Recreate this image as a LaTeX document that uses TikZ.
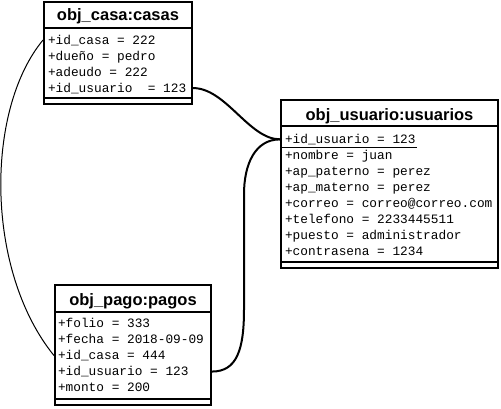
\documentclass[tikz,border=0pt]{standalone}
\usepackage{fontspec}
\setmainfont{Liberation Sans}
\setmonofont{Liberation Mono}
\begin{document}
\begin{tikzpicture}[x=1pt,y=-1pt,line width=2pt,
  obj/.style={draw,inner sep=0pt,line width=2pt},
  titulo/.style={anchor=base,inner sep=0pt,font=\bfseries\fontsize{16.5}{18}\selectfont},
  attr/.style={anchor=base west,inner sep=0pt,font=\ttfamily\fontsize{12.8}{14}\selectfont}]
\useasboundingbox (0,0) rectangle (501,408);

% obj_casa
\node[obj,minimum width=148pt,minimum height=102pt] (casa) at (118,53) {};
\draw ([yshift=-27pt]casa.north west) -- ([yshift=-27pt]casa.north east);
\draw ([yshift=7pt]casa.south west) -- ([yshift=7pt]casa.south east);
\node[titulo] (casa-t) at (118,20.5) {obj\_casa:casas};
\node[attr] (casa-id) at (47,44) {+id\_casa = 222};
\node[attr] (casa-dueno) at (47,60) {+dueño = pedro};
\node[attr] (casa-adeudo) at (47,76) {+adeudo = 222};
\node[attr] (casa-idu) at (47,92) {+id\_usuario~~= 123};

% obj_usuario
\node[obj,minimum width=217pt,minimum height=168pt] (usuario) at (389.5,184) {};
\draw ([yshift=-27pt]usuario.north west) -- ([yshift=-27pt]usuario.north east);
\draw ([yshift=7pt]usuario.south west) -- ([yshift=7pt]usuario.south east);
\node[titulo] (usuario-t) at (389.5,120.5) {obj\_usuario:usuarios};
\node[attr] (usuario-id) at (284,143.3) {+id\_usuario = 123};
\node[attr] (usuario-nombre) at (284,159.4) {+nombre = juan};
\node[attr] (usuario-pat) at (284,175.4) {+ap\_paterno = perez};
\node[attr] (usuario-mat) at (284,191.5) {+ap\_materno = perez};
\node[attr] (usuario-correo) at (284,207.5) {+correo = correo@correo.com};
\node[attr] (usuario-tel) at (284,223.6) {+telefono = 2233445511};
\node[attr] (usuario-puesto) at (284,239.6) {+puesto = administrador};
\node[attr] (usuario-pass) at (284,255.7) {+contrasena = 1234};
\draw[line width=1pt] ([yshift=-1.5pt]usuario.west |- usuario-id.south) -- ([yshift=-1.5pt]usuario-id.south east);

% obj_pago
\node[obj,minimum width=156pt,minimum height=120pt] (pago) at (133,345) {};
\draw ([yshift=-28pt]pago.north west) -- ([yshift=-28pt]pago.north east);
\draw ([yshift=7pt]pago.south west) -- ([yshift=7pt]pago.south east);
\node[titulo] (pago-t) at (133,305) {obj\_pago:pagos};
\node[attr] (pago-folio) at (57,327.5) {+folio = 333};
\node[attr] (pago-fecha) at (57,343.5) {+fecha = 2018-09-09};
\node[attr] (pago-idc) at (57,359.5) {+id\_casa = 444};
\node[attr] (pago-idu) at (57,375.5) {+id\_usuario = 123};
\node[attr] (pago-monto) at (57,391.5) {+monto = 200};

% ligas
\draw (casa.east |- casa-idu) .. controls +(33,0) and +(-31,0) .. (usuario.west |- usuario-id);
\draw (usuario.west |- usuario-id) .. controls +(-25,0) and +(0,-30) .. ++(-36,55)
  -- ++(0,115) .. controls +(0,40) and +(25,0) .. (pago.east |- pago-idu);
\draw[line width=1pt] (casa.west |- casa-id) .. controls +(-58,70) and +(-69,-85) .. (pago.west |- pago-idc);
\end{tikzpicture}
\end{document}
